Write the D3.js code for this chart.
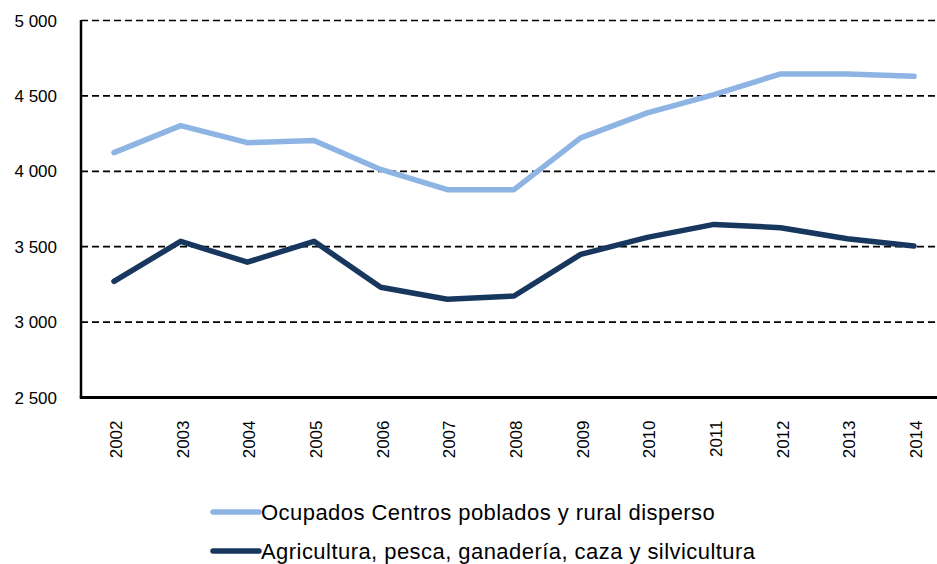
<!DOCTYPE html>
<html>
<head>
<meta charset="utf-8">
<script src="https://cdn.jsdelivr.net/npm/d3@7"></script>
<style>
  body { margin: 0; background: #fff; }
  svg { display: block; font-family: "Liberation Sans", Arial, sans-serif; }
</style>
</head>
<body>
<div id="chart"></div>
<script>
// Data
const years = ["2002","2003","2004","2005","2006","2007","2008","2009","2010","2011","2012","2013","2014"];
const ocupados = [4124, 4303, 4190, 4204, 4012, 3878, 3878, 4222, 4387, 4509, 4646, 4645, 4630];
const agricultura = [3270, 3536, 3397, 3536, 3231, 3151, 3173, 3449, 3562, 3648, 3626, 3553, 3504];
const yTicks = [2500, 3000, 3500, 4000, 4500, 5000];
const seriesNames = ["Ocupados Centros poblados y rural disperso", "Agricultura, pesca, ganadería, caza y silvicultura"];
const seriesColors = ["#8db4e2", "#17375e"];

const W = 937, H = 564;
const axisLeft = 81;

const svg = d3.select("#chart").append("svg")
    .attr("width", W)
    .attr("height", H);

const x = d3.scalePoint()
    .domain(years)
    .range([114, 914]);

const y = d3.scaleLinear()
    .domain([2500, 5000])
    .range([397.5, 20.5]);

// gridlines
svg.append("g")
    .selectAll("line")
    .data(yTicks.filter(d => d > 2500))
    .enter()
    .append("line")
    .attr("x1", axisLeft)
    .attr("x2", W)
    .attr("y1", d => y(d))
    .attr("y2", d => y(d))
    .attr("stroke", "#000")
    .attr("stroke-width", 1.7)
    .attr("stroke-dasharray", "7,4");

// y axis labels
svg.append("g")
    .selectAll("text")
    .data(yTicks)
    .enter()
    .append("text")
    .attr("x", 57)
    .attr("y", d => y(d))
    .attr("dy", "0.36em")
    .attr("text-anchor", "end")
    .attr("font-size", "17px")
    .attr("fill", "#000")
    .text(d => d3.format(",")(d).replace(",", " "));

// axes lines
svg.append("line")
    .attr("x1", axisLeft).attr("x2", axisLeft)
    .attr("y1", y(5000) - 0.5).attr("y2", y(2500))
    .attr("stroke", "#000").attr("stroke-width", 2.5);
svg.append("line")
    .attr("x1", axisLeft - 1.25).attr("x2", W)
    .attr("y1", y(2500)).attr("y2", y(2500))
    .attr("stroke", "#000").attr("stroke-width", 3);

// x labels (rotated)
svg.append("g")
    .selectAll("text")
    .data(years)
    .enter()
    .append("text")
    .attr("transform", d => `translate(${x(d) + 8},${y(2500) + 23}) rotate(-90)`)
    .attr("text-anchor", "end")
    .attr("font-size", "17px")
    .attr("fill", "#000")
    .text(d => d);

// lines
const line = d3.line()
    .x((d, i) => x(years[i]))
    .y(d => y(d));

[ocupados, agricultura].forEach((vals, k) => {
    svg.append("path")
        .datum(vals)
        .attr("fill", "none")
        .attr("stroke", seriesColors[k])
        .attr("stroke-width", 5.5)
        .attr("stroke-linejoin", "round")
        .attr("stroke-linecap", "round")
        .attr("d", line);
});

// legend
const legend = svg.append("g");
seriesNames.forEach((name, k) => {
    const ly = 512 + k * 39;
    legend.append("line")
        .attr("x1", 213).attr("x2", 259)
        .attr("y1", ly).attr("y2", ly)
        .attr("stroke", seriesColors[k])
        .attr("stroke-width", 5.5)
        .attr("stroke-linecap", "round");
    legend.append("text")
        .attr("x", 261)
        .attr("y", ly)
        .attr("dy", "0.36em")
        .attr("font-size", "22px")
        .attr("letter-spacing", "0.45px")
        .attr("fill", "#000")
        .text(name);
});
</script>
</body>
</html>
